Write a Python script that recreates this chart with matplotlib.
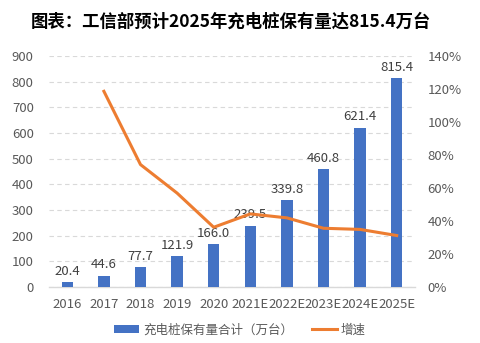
import matplotlib.pyplot as plt
from matplotlib.ticker import FuncFormatter

plt.rcParams['font.family'] = ['Noto Sans CJK SC', 'DejaVu Sans']

# data
years = ['2016', '2017', '2018', '2019', '2020', '2021E', '2022E', '2023E', '2024E', '2025E']
stock = [20.4, 44.6, 77.7, 121.9, 166.0, 239.5, 339.8, 460.8, 621.4, 815.4]
growth = [None, 118.6, 74.2, 56.9, 36.2, 44.3, 41.9, 35.6, 34.9, 31.2]

blue = '#4472C4'
orange = '#ED7D31'
grey = '#595959'

fig = plt.figure(figsize=(4.81, 3.43), dpi=100)
ax = fig.add_axes([49 / 481, 1 - 287 / 343, 366 / 481, 231 / 343])
ax2 = ax.twinx()

x = list(range(len(years)))
bars = ax.bar(x, stock, width=0.31, color=blue, zorder=3, label='充电桩保有量合计（万台）')
for xi, v in zip(x, stock):
    ax.text(xi, v + 16, f'{v:.1f}', ha='center', va='bottom', fontsize=9.5, color='#404040', zorder=5)

gx = [xi for xi, g in zip(x, growth) if g is not None]
gy = [g for g in growth if g is not None]
line, = ax2.plot(gx, gy, color=orange, lw=2.2, label='增速', zorder=4)

ax.set_xlim(-0.5, len(years) - 0.5)
ax.set_ylim(0, 900)
ax.set_yticks(range(0, 901, 100))
ax2.set_ylim(0, 140)
ax2.set_yticks(range(0, 141, 20))
ax2.yaxis.set_major_formatter(FuncFormatter(lambda v, p: f'{v:.0f}%'))

ax.set_xticks(x)
ax.set_xticklabels(years)
ax.yaxis.grid(True, color='#D9D9D9', ls=(0, (4, 3)), lw=0.8, zorder=0)
ax.set_axisbelow(True)

for a in (ax, ax2):
    for s in a.spines.values():
        s.set_visible(False)
    a.tick_params(length=0, labelsize=9.5, colors=grey)
ax.tick_params(axis='y', pad=11)
ax2.tick_params(axis='y', pad=9)
ax.tick_params(axis='x', pad=8)
ax.spines['bottom'].set_visible(True)
ax.spines['bottom'].set_color('#D9D9D9')
ax.spines['bottom'].set_linewidth(1)

fig.text(231 / 481, 1 - 22 / 343, '图表：工信部预计2025年充电桩保有量达815.4万台',
         ha='center', va='center', fontsize=12.5, fontweight='bold', color='black')

fig.legend(handles=[bars, line], loc='center', bbox_to_anchor=(240 / 481, 1 - 330 / 343),
           ncol=2, frameon=False, fontsize=9, labelcolor=grey,
           handlelength=2.0, handleheight=0.55, handletextpad=0.3, columnspacing=1.5)

fig.savefig('out.png', dpi=100)
